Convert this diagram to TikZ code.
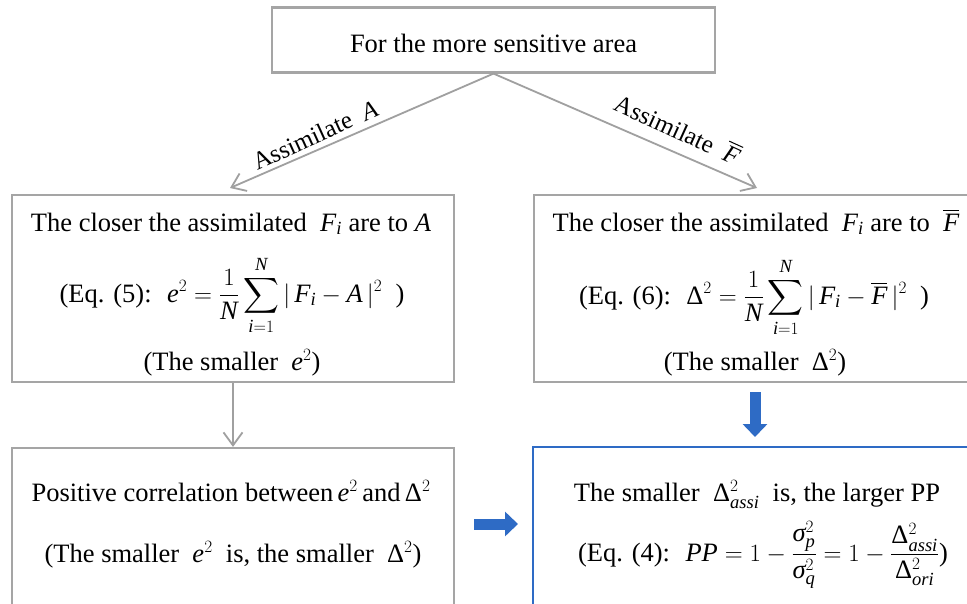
\documentclass[tikz,border=0pt]{standalone}
\usepackage{amsmath}
\usepackage{fontspec}
\setmainfont{Liberation Serif}
\DeclareSymbolFont{tletters}{TU}{\rmdefault}{m}{it}
\DeclareSymbolFont{tupright}{TU}{\rmdefault}{m}{n}
\count255=`a
\loop \Umathcode\count255=7 \symtletters \count255 \ifnum\count255<`z \advance\count255 1 \repeat
\count255=`A
\loop \Umathcode\count255=7 \symtletters \count255 \ifnum\count255<`Z \advance\count255 1 \repeat
\Umathchardef\mysigma="7 \symtletters "03C3
\Umathchardef\myDelta="0 \symtupright "0394
\usetikzlibrary{arrows.meta}
\definecolor{boxgray}{RGB}{165,165,165}
\definecolor{arrgray}{RGB}{160,160,160}
\definecolor{blueA}{RGB}{46,107,197}
\tikzset{
  graybox/.style={draw=boxgray, line width=2.2pt, minimum width=#1, inner sep=0pt},
  txt/.style={anchor=base, inner sep=0pt, font=\fontsize{26.5}{30}\selectfont},
  lbl/.style={inner sep=0pt, font=\fontsize{25}{28}\selectfont},
  grayarr/.style={draw=arrgray, line width=1.8pt, -{Straight Barb[length=13pt,width=19pt,line width=1.8pt]}},
  bluearr/.style={draw=blueA, line width=11pt, -{Triangle[length=13pt,width=24pt]}}
}
\begin{document}
\begin{tikzpicture}[x=1pt,y=-1pt]
\clip (0,0) rectangle (967,603);
\fill[white] (0,0) rectangle (967,603);
% boxes
\node[graybox=443pt, minimum height=65pt] (top) at (493.5,40) {};
\node[graybox=442pt, minimum height=187pt] (lbox) at (233,288.5) {};
\node[graybox=446pt, minimum height=187pt] (rbox) at (757,288.5) {};
\node[graybox=442pt, minimum height=172pt] (blbox) at (233,534) {};
\node[draw=blueA, line width=2.2pt, minimum width=447pt, minimum height=173pt, inner sep=0pt] (brbox) at (756.5,533.5) {};
% texts
\node[txt] (ttop) at (493.5,52) {For the more sensitive area};
\node[txt] (l1) at (231,231) {The closer the assimilated \ $F_i$ are to $A$};
\node[txt] (l2) at (232,302) {(Eq. (5): \ $\displaystyle e^2=\frac{1}{N}\sum_{i=1}^{N}|\,F_i-A\,|^2$ \ )};
\node[txt] (l3) at (232,370) {(The smaller \ $e^2$)};
\node[txt] (r1) at (756,231) {The closer the assimilated \ $F_i$ are to \ $\overline{F}$};
\node[txt] (r2) at (754,304) {(Eq. (6): \ $\displaystyle \myDelta^2=\frac{1}{N}\sum_{i=1}^{N}|\,F_i-\overline{F}\,|^2$ \ )};
\node[txt] (r3) at (755,370) {(The smaller \ $\myDelta^2$)};
\node[txt] (b1) at (231,501) {Positive correlation between\,$e^2$\,and\,$\myDelta^2$};
\node[txt] (b2) at (233,562) {(The smaller \ $e^2$ \ is, the smaller \ $\myDelta^2$)};
\node[txt] (c1) at (757,501) {The smaller \ $\myDelta^2_{assi}$ \ is, the larger PP};
\node[txt] (c2) at (763,561) {(Eq. (4): \ $\displaystyle PP=1-\frac{\mysigma_p^2}{\mysigma_q^2}=1-\frac{\myDelta^2_{assi}}{\myDelta^2_{ori}}$)};
% arrows
\coordinate (la) at (230,188);
\coordinate (ra) at (757,188);
\draw[grayarr] (top.south) -- (la);
\draw[grayarr] (top.south) -- (ra);
\node[lbl, rotate=24.5] (labA) at (315,135) {Assimilate \ $A$};
\node[lbl, rotate=-24.5] (labF) at (678,128) {Assimilate \ $\overline{F}$};
\draw[grayarr] (lbox.south) -- (blbox.north);
\coordinate (bs) at (755,392);
\coordinate (be) at (755,437);
\draw[bluearr] (bs) -- (be);
\coordinate (hs) at (474,524);
\coordinate (he) at (518,524);
\draw[bluearr] (hs) -- (he);
\end{tikzpicture}
\end{document}
